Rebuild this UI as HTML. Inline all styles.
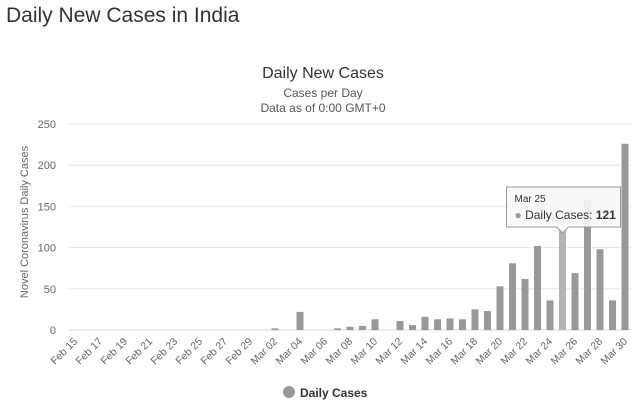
<!DOCTYPE html>
<html><head><meta charset="utf-8"><style>
body{margin:0;background:#fff;font-family:"Liberation Sans",sans-serif;}
</style></head><body>
<div style="position:relative;width:640px;height:407px;overflow:hidden">
<div style="position:absolute;left:6px;top:4px;font-size:21px;color:#333">Daily New Cases in India</div>
<svg id="chart" width="640" height="407" style="position:absolute;left:0;top:0"></svg>
</div>
<script>
const categories=["Feb 15","Feb 16","Feb 17","Feb 18","Feb 19","Feb 20","Feb 21","Feb 22","Feb 23","Feb 24","Feb 25","Feb 26","Feb 27","Feb 28","Feb 29","Mar 01","Mar 02","Mar 03","Mar 04","Mar 05","Mar 06","Mar 07","Mar 08","Mar 09","Mar 10","Mar 11","Mar 12","Mar 13","Mar 14","Mar 15","Mar 16","Mar 17","Mar 18","Mar 19","Mar 20","Mar 21","Mar 22","Mar 23","Mar 24","Mar 25","Mar 26","Mar 27","Mar 28","Mar 29","Mar 30"];
const dailyCases=[0,0,0,0,0,0,0,0,0,0,0,0,0,0,0,0,2,0,22,0,0,2,4,5,13,0,11,6,16,13,14,13,25,23,53,81,62,102,36,121,69,158,98,36,226];
const yTicks=[0,50,100,150,200,250];
const NS="http://www.w3.org/2000/svg";
const svg=document.getElementById('chart');
const L=68.75,R=631.25,T=124,B=330,yMax=250;
const bw=(R-L)/categories.length;
const xC=i=>L+bw*(i+0.5);
const y=v=>B-(v/yMax)*(B-T);
function mk(t,a){const e=document.createElementNS(NS,t);for(const k in a)e.setAttribute(k,a[k]);svg.appendChild(e);return e;}
function tx(s,a){const e=mk('text',a);e.textContent=s;return e;}
let e;
e=tx("Daily New Cases",{x:323,y:78,'text-anchor':'middle','font-size':16,fill:'#333'});

e=tx("Cases per Day",{x:323,y:97,'text-anchor':'middle','font-size':12,fill:'#555'});

e=tx("Data as of 0:00 GMT+0",{x:323,y:112,'text-anchor':'middle','font-size':12,fill:'#555'});

yTicks.forEach(t=>{
 e=mk('line',{x1:L,x2:R,y1:y(t),y2:y(t),stroke:t===0?'#ccd6eb':'#e6e6e6','stroke-width':1});
 
 e=tx(String(t),{x:56,y:y(t)+4,'text-anchor':'end','font-size':11,fill:'#666'});
 
});
e=tx("Novel Coronavirus Daily Cases",{x:0,y:0,'text-anchor':'middle','font-size':11,fill:'#666',transform:'translate(28,222) rotate(-90)'});

categories.forEach((c,i)=>{
 const v=dailyCases[i];
 if(v>0){
  e=mk('rect',{x:xC(i)-3.5,y:y(v),width:7,height:B-y(v),fill:c==="Mar 25"?'#b3b3b3':'#999'});
  
 }
 if(i%2===0){
  e=tx(c,{x:0,y:0,'text-anchor':'end','font-size':10.5,fill:'#666',transform:`translate(${xC(i)+3},${B+12}) rotate(-45)`});
  
 }
});
// tooltip
const ti=categories.indexOf("Mar 25");
const tg=mk('g',{});


const bx=xC(ti)-56,by=187;
tg.appendChild(Object.assign(document.createElementNS(NS,'path'),{}));
const p=tg.lastChild;
p.setAttribute('d',`M${bx} ${by} h114 v40 h-${114-62} l-6 6 l-6 -6 H${bx} Z`);
p.setAttribute('fill','rgba(247,247,247,0.9)');p.setAttribute('stroke','#999');p.setAttribute('stroke-width','1');
e=tx("Mar 25",{x:bx+8,y:by+15,'font-size':10,fill:'#333'});

e=tx("",{x:bx+8,y:by+32,'font-size':12,fill:'#333'});
e.innerHTML='<tspan fill="#999">● </tspan>Daily Cases: <tspan font-weight="bold">'+dailyCases[ti]+'</tspan>';

// legend
e=mk('circle',{cx:289,cy:392,r:6,fill:'#999'});

e=tx("Daily Cases",{x:300,y:397,'font-size':12,'font-weight':'bold',fill:'#333'});

</script>
</body></html>
